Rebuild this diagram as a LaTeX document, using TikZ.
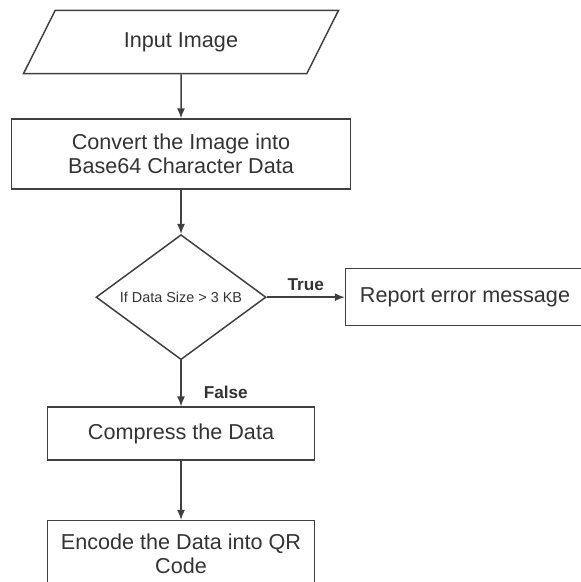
\documentclass[tikz,border=0pt]{standalone}
\usepackage{fontspec}
\setmainfont{Liberation Sans}
\usetikzlibrary{arrows.meta,positioning,shapes.geometric}

\begin{document}
\begin{tikzpicture}[
  node distance=22pt,
  box/.style={draw=black!75, line width=0.75pt, align=center, inner sep=0pt, font=\fontsize{10.8pt}{12pt}\selectfont, text=black!80},
  io/.style={box, trapezium, trapezium left angle=63.4, trapezium right angle=116.6, trapezium stretches body=true, inner xsep=0pt, inner ysep=11pt, minimum width=157.5pt},
  decision/.style={box, diamond, aspect=1.36, minimum width=85pt, minimum height=62.5pt, font=\fontsize{7.2pt}{8.6pt}\selectfont},
  lbl/.style={font=\fontsize{8.6pt}{10pt}\selectfont\bfseries, text=black!80, inner sep=0pt},
  arrow/.style={-{Latex[length=5pt, width=4pt]}, line width=0.75pt, draw=black!75}
]
\useasboundingbox (-90.5pt,-270pt) rectangle (200pt,21pt);
\node[io] (input) {Input Image};
\node[box, below=22pt of input, minimum width=169.5pt, minimum height=35pt] (convert) {Convert the Image into\\Base64 Character Data};
\node[decision, below=22pt of convert] (check) {If Data Size > 3 KB};
\node[box, right=39pt of check, minimum width=119.5pt, minimum height=28.5pt] (report) {Report error message};
\node[box, below=23pt of check, minimum width=133.5pt, minimum height=26.5pt] (compress) {Compress the Data};
\node[box, below=29.5pt of compress, minimum width=133.5pt, minimum height=33pt] (encode) {Encode the Data into QR\\Code};
\draw[arrow] (input) -- (convert);
\draw[arrow] (convert) -- (check);
\draw[arrow] (check) -- node[lbl, above=3pt] {True} (report);
\draw[arrow] (check) -- node[lbl, pos=0.7, right=11pt] {False} (compress);
\draw[arrow] (compress) -- (encode);
\end{tikzpicture}
\end{document}
